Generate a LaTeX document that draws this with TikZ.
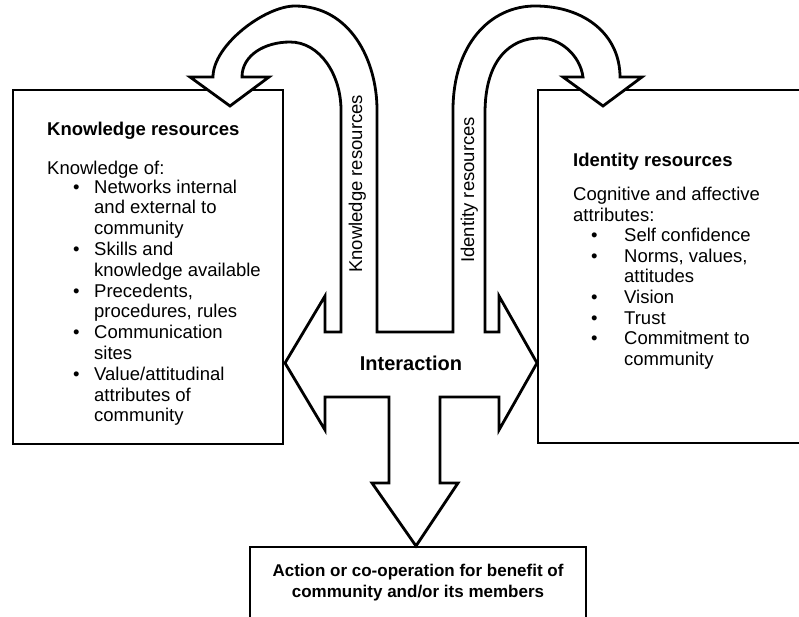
\documentclass[tikz,border=0pt]{standalone}
\usepackage{fontspec}
\setmainfont{Liberation Sans}
\begin{document}
\begin{tikzpicture}[x=1pt,y=-1pt,
  box/.style={draw, line width=2.8pt, fill=white, inner sep=0pt},
  blockarrow/.style={draw, line width=2.8pt, fill=white, line join=miter},
  txt/.style={inner sep=0pt, font=\fontsize{18.5}{20.8}\selectfont},
  rtxt/.style={inner sep=0pt, font=\fontsize{18.5}{20.6}\selectfont},
  ttl/.style={inner sep=0pt, font=\fontsize{18.5}{20.8}\selectfont\bfseries},
  vtxt/.style={inner sep=0pt, rotate=90, anchor=base west, font=\fontsize{18.5}{20}\selectfont},
  btxt/.style={inner sep=0pt, font=\fontsize{17}{20.3}\selectfont\bfseries}
]
\useasboundingbox (0,0) rectangle (799,616);
\clip (0,0) rectangle (799,616);

% boxes
\node[box, minimum width=270pt, minimum height=354pt] (kbox) at (148,267) {};
\node[box, minimum width=292pt, minimum height=353pt] (ibox) at (684,266.5) {};
\node[box, minimum width=336pt, minimum height=73pt] (abox) at (418,583.5) {};

% block arrows (interaction, two loops, downward arrow)
\path[blockarrow] (285,363) -- (325,296) -- (325,332) -- (341,332) -- (341,110)
  .. controls (341,75) and (320,42) .. (290,42)
  .. controls (265,42) and (242,55) .. (242,77)
  -- (269,77) -- (230,106) -- (190,77) -- (213,77)
  .. controls (213,45) and (265,6) .. (295,6)
  .. controls (350,6) and (377,60) .. (377,110)
  -- (377,332) -- (453,332) -- (453,110)
  .. controls (453,45) and (490,6) .. (535,6)
  .. controls (585,6) and (620,35) .. (620,77)
  -- (642,77) -- (603,106) -- (563,77) -- (583,77)
  .. controls (580,55) and (560,38) .. (540,38)
  .. controls (510,38) and (485,60) .. (485,113)
  -- (485,332) -- (499,332) -- (499,296) -- (537,363) -- (499,430)
  -- (499,397) -- (440,397) -- (440,483) -- (458,483) -- (416,546)
  -- (372,483) -- (389,483) -- (389,397) -- (325,397) -- (325,430) -- cycle;

% labels on arrows
\node[vtxt] (klabel) at (362,273) {Knowledge resources};
\node[vtxt] (ilabel) at (474,263) {Identity resources};
\node[inner sep=0pt, anchor=base, font=\fontsize{20}{22}\selectfont\bfseries] (inter) at (411,370) {Interaction};

% left box text
\node[ttl, anchor=base west] (ktitle) at (47,135) {Knowledge resources};
\node[txt, anchor=base west] (kof) at (47,174) {Knowledge of:};
\node[txt, anchor=base west] (klist) at (47,193) {\begin{tabular}[t]{@{}p{47pt}@{}l@{}}
\hspace*{26pt}\textbullet & Networks internal\\
 & and external to\\
 & community\\
\hspace*{26pt}\textbullet & Skills and\\
 & knowledge available\\
\hspace*{26pt}\textbullet & Precedents,\\
 & procedures, rules\\
\hspace*{26pt}\textbullet & Communication\\
 & sites\\
\hspace*{26pt}\textbullet & Value/attitudinal\\
 & attributes of\\
 & community
\end{tabular}};

% right box text
\node[ttl, anchor=base west] (ititle) at (573,166) {Identity resources};
\node[rtxt, anchor=base west] (ilist) at (573,200.5) {\begin{tabular}[t]{@{}p{51pt}@{}l@{}}
\multicolumn{2}{@{}l@{}}{Cognitive and affective}\\
\multicolumn{2}{@{}l@{}}{attributes:}\\
\hspace*{18pt}\textbullet & Self confidence\\
\hspace*{18pt}\textbullet & Norms, values,\\
 & attitudes\\
\hspace*{18pt}\textbullet & Vision\\
\hspace*{18pt}\textbullet & Trust\\
\hspace*{18pt}\textbullet & Commitment to\\
 & community
\end{tabular}};

% bottom box text
\node[btxt, anchor=base] (atext) at (418,576.7) {\begin{tabular}[t]{@{}c@{}}
Action or co-operation for benefit of\\
community and/or its members
\end{tabular}};
\end{tikzpicture}
\end{document}
